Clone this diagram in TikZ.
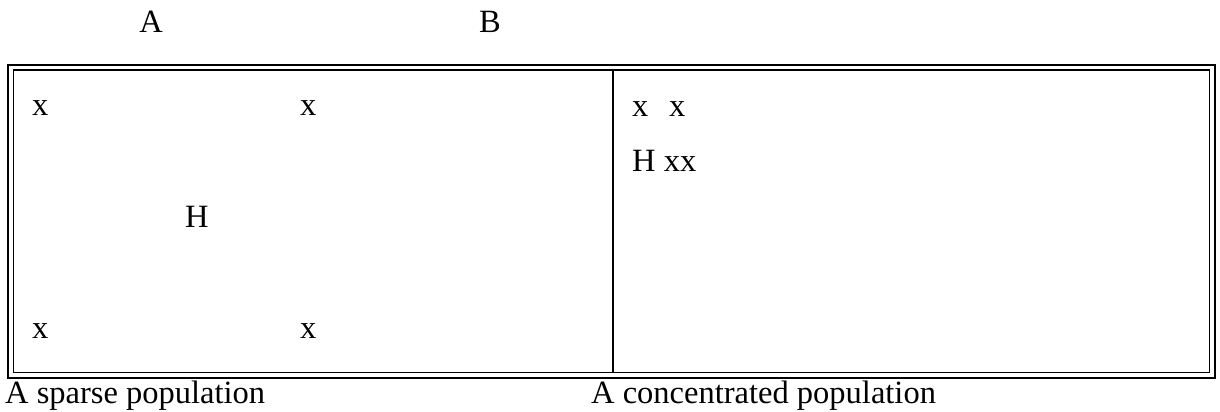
\documentclass[tikz,border=0pt]{standalone}
\usepackage{fontspec}
\setmainfont{Liberation Serif}
\begin{document}
\begin{tikzpicture}[x=1pt,y=-1pt,
  lbl/.style={inner sep=0pt,anchor=base west,font=\fontsize{32.5}{38}\selectfont},
  frameline/.style={line width=2.4pt},
  innerline/.style={line width=1.8pt}]
\useasboundingbox (0,0) rectangle (1220,412);
% frame
\draw[frameline] (8,65) rectangle (1215,378);
\draw[innerline] (13.5,70) rectangle (1209.5,372.5);
\coordinate (dtop) at (613,70);
\coordinate (dbot) at (613,372.5);
\draw[line width=2.6pt] (dtop) -- (dbot);
% headings
\node[lbl,anchor=base] (hA) at (151,33) {A};
\node[lbl,anchor=base] (hB) at (490,33) {B};
% left panel
\node[lbl] (x1) at (32,115) {x};
\node[lbl] (x2) at (300,115) {x};
\node[lbl] (h1) at (185,227) {H};
\node[lbl] (x3) at (32,338) {x};
\node[lbl] (x4) at (300,338) {x};
% right panel
\node[lbl] (x5) at (632,116) {x};
\node[lbl] (x6) at (669,116) {x};
\node[lbl] (h2) at (632,171) {H xx};
% captions
\node[lbl] (c1) at (5,403) {A sparse population};
\node[lbl] (c2) at (591,403) {A concentrated population};
\end{tikzpicture}
\end{document}
